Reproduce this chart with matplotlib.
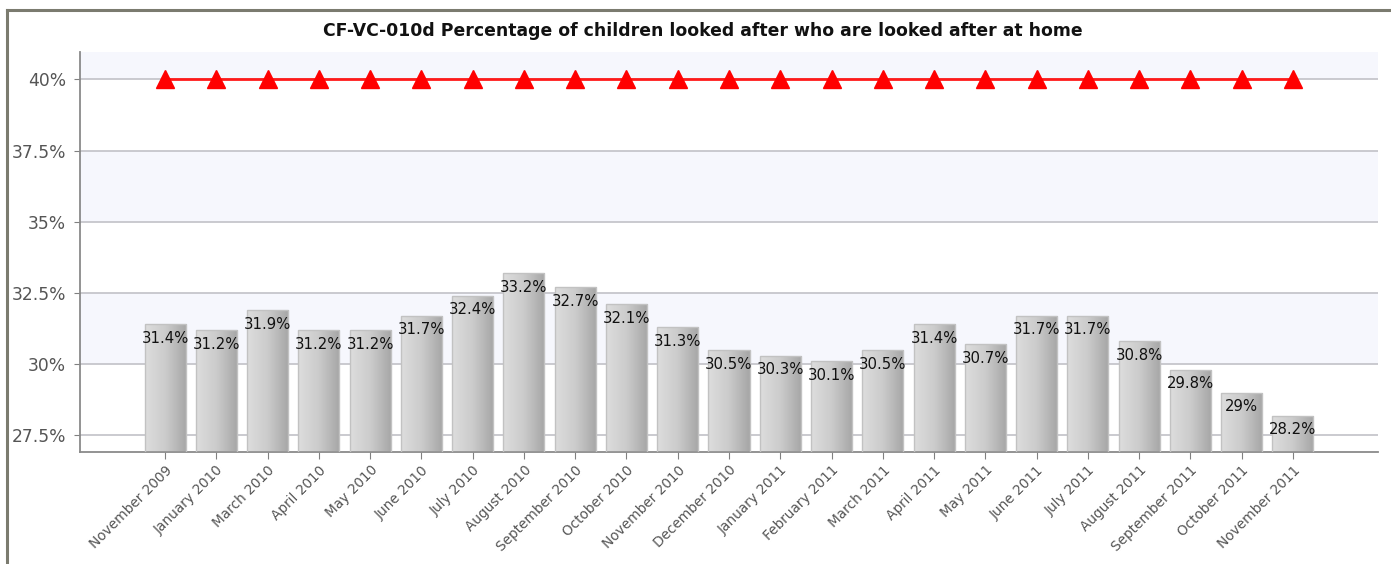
import numpy as np
import matplotlib
matplotlib.use("Agg")
import matplotlib.pyplot as plt
from matplotlib.lines import Line2D
from matplotlib.ticker import FuncFormatter

months = ["November 2009", "January 2010", "March 2010", "April 2010", "May 2010",
          "June 2010", "July 2010", "August 2010", "September 2010", "October 2010",
          "November 2010", "December 2010", "January 2011", "February 2011",
          "March 2011", "April 2011", "May 2011", "June 2011", "July 2011",
          "August 2011", "September 2011", "October 2011", "November 2011"]
actual = [31.4, 31.2, 31.9, 31.2, 31.2, 31.7, 32.4, 33.2, 32.7, 32.1, 31.3, 30.5,
          30.3, 30.1, 30.5, 31.4, 30.7, 31.7, 31.7, 30.8, 29.8, 29.0, 28.2]
target = [40] * len(months)
yticks = [27.5, 30, 32.5, 35, 37.5, 40]

title = "CF-VC-010d Percentage of children looked after who are looked after at home"

fig = plt.figure(figsize=(13.91, 5.64), dpi=100)
ax = fig.add_axes([80 / 1391, 1 - 452 / 564, 1298 / 1391, 400 / 564])

x = np.arange(len(months))
ymin, ymax = 26.92, 40.96
ax.set_xlim(-1.66, len(months) - 1 + 1.66)
ax.set_ylim(ymin, ymax)

# alternating background bands
band = "#f6f7fd"
for lo, hi in [(30, 32.5), (35, 37.5), (40, ymax)]:
    ax.axhspan(lo, hi, color=band, zorder=0, lw=0)
ax.set_yticks(yticks)
ax.yaxis.grid(True, color="#c6c6cc", lw=1.3, zorder=1)
ax.set_axisbelow(True)

# bars with a horizontal grey gradient
bars = ax.bar(x, actual, width=0.8, bottom=0, color="none",
              edgecolor="#c4c4c4", lw=1.0, zorder=2)
grad = np.linspace(0, 1, 64).reshape(1, -1)
cmap = matplotlib.colors.LinearSegmentedColormap.from_list(
    "bargrey", ["#dddddd", "#cbcbcb", "#a6a6a6"])
for b in bars:
    x0, w, h = b.get_x(), b.get_width(), b.get_height()
    im = ax.imshow(grad, cmap=cmap, aspect="auto", extent=[x0, x0 + w, ymin, h],
                   zorder=2, interpolation="bilinear")
    im.set_clip_path(b)
    ax.add_patch(matplotlib.patches.Rectangle((x0, ymin), w, h - ymin, fill=False,
                                              edgecolor="#c2c2c2", lw=1.0, zorder=3))
    b.set_visible(False)

for xi, v in zip(x, actual):
    ax.annotate(f"{v:g}%", (xi, v), xytext=(0, -14), textcoords="offset pixels",
                ha="center", va="center", fontsize=10.7, color="#111111", zorder=5)

# target line
ax.plot(x, target, color="#ff1a1a", lw=2.0, marker="^", markersize=13,
        markerfacecolor="#ff0000", markeredgecolor="#ff0000", zorder=4)

ax.yaxis.set_major_formatter(FuncFormatter(lambda v, p: f"{v:g}%"))
ax.set_xticks(x)
ax.set_xticklabels(months, rotation=45, ha="right", rotation_mode="anchor",
                   fontsize=9.8, color="#555555")
ax.tick_params(axis="y", labelsize=12.3, labelcolor="#555555", length=4,
               color="#808080", pad=6)
ax.tick_params(axis="x", length=5, color="#808080", pad=3)
for s in ["top", "right"]:
    ax.spines[s].set_visible(False)
for s in ["left", "bottom"]:
    ax.spines[s].set_color("#8a8a8a")
    ax.spines[s].set_linewidth(1.3)

fig.text(703 / 1391, 1 - 31 / 564, title, ha="center", va="center",
         fontsize=12.4, fontweight="bold", color="#111111")

# outer frame edges
frame = "#7b7b6f"
fig.add_artist(Line2D([7 / 1391, 7 / 1391], [0, 1 - 10 / 564], color=frame, lw=2.2,
                      transform=fig.transFigure))
fig.add_artist(Line2D([7 / 1391, 1], [1 - 10 / 564, 1 - 10 / 564], color=frame, lw=2.2,
                      transform=fig.transFigure))

fig.savefig("out.png", dpi=100, facecolor="white")
